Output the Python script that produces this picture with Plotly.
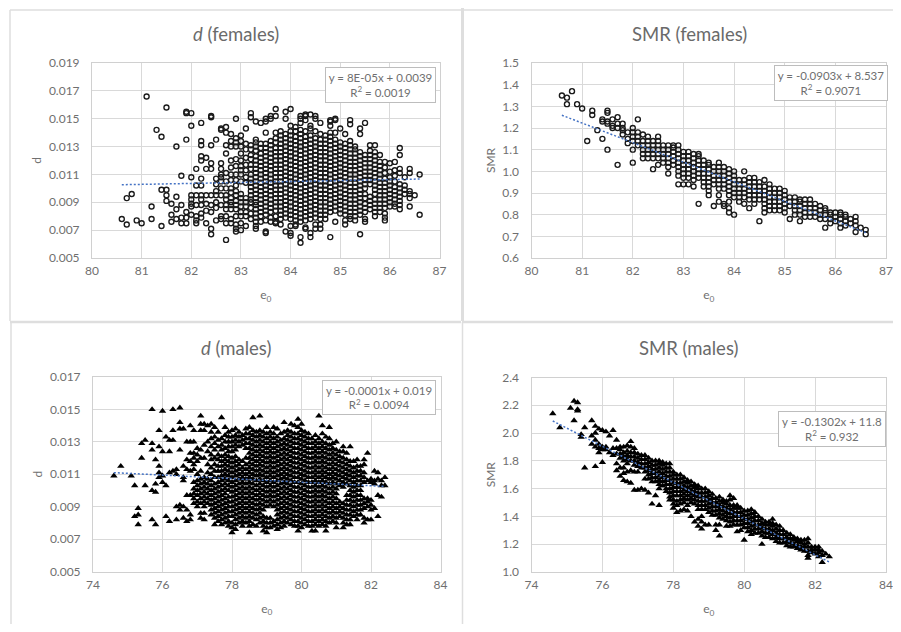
import plotly.graph_objects as go

W, H = 885, 616   # drawn size; the page's own 8px margin makes up the 901x632 window
OFF = 8

# d (females): e0 -> d x 10000
fem_d = {
80.6:[78], 80.7:[74,93], 80.8:[96], 80.9:[77], 81.0:[75], 81.1:[166], 81.2:[78,87], 81.3:[142],
81.4:[73,99,137], 81.5:[91,95,99,158], 81.6:[76,81,89], 81.7:[78,85,94,130], 81.8:[75,79,88,109],
81.9:[75,79,83,135,154,155], 82.0:[81,87,89,92,95,108,145,154], 82.1:[75,77,80,88,95,102,114],
82.2:[79,82,88,92,95,102,107,120,123,131,134,147], 82.3:[75,84,89,95,114,122],
82.4:[67,71,83,88,95,114,118,131,151,152], 82.5:[77,86,90,95,98,103,107,135],
82.6:[78,80,88,95,100,105,108,110,114,118,142,143],
82.7:[63,75,80,85,88,92,95,100,105,111,125,131,140,144],
82.8:[75,78,85,88,90,93,97,100,106,110,115,120,130,134,139],
82.9:[69,71,74,80,85,88,91,95,98,102,106,110,116,121,130,133,136,150],
83.0:[70,75,80,83,87,90,93,96,105,110,113,116,120,125,130,134,138],
83.1:[73,80,83,87,90,93,104,108,113,117,122,128,132,143],
83.2:[78,82,86,90,92,95,98,101,104,107,110,114,117,121,124,128,131,151,154],
83.3:[71,73,76,79,82,85,88,90,93,96,99,102,105,108,111,114,117,120,123,127,130,133,135,148],
83.4:[76,80,83,86,89,92,95,98,101,104,107,110,113,116,119,122,125,129,132,147],
83.5:[68,69,77,81,84,87,90,93,96,99,102,105,108,111,114,117,120,123,126,129,132,140,148,150],
83.6:[76,79,83,86,89,92,95,98,101,104,107,110,113,116,119,122,125,128,131,134,150,152],
83.7:[75,76,80,84,87,90,93,96,99,102,105,108,111,114,117,120,123,126,129,133,136,140,152,157],
83.8:[74,78,81,84,87,90,93,96,99,102,105,108,111,114,117,120,123,126,129,132,135,138,141],
83.9:[69,79,82,85,88,91,94,97,100,103,106,109,112,115,118,121,124,127,130,133,136,139,150,155],
84.0:[66,68,73,78,81,84,87,90,93,96,99,102,105,108,111,114,117,120,123,126,129,132,135,138,141,145,157],
84.1:[73,74,77,80,83,86,89,92,95,98,101,104,107,110,113,116,119,122,125,128,131,134,137,141,144],
84.2:[61,65,76,79,82,85,88,91,94,97,100,103,106,109,112,115,118,121,124,127,130,133,136,139,142,147,150,152],
84.3:[71,72,77,80,83,86,89,92,95,98,101,104,107,110,113,116,119,122,125,128,131,134,137,141,149,152,153],
84.4:[65,68,78,81,84,87,90,93,96,99,102,105,108,111,114,117,120,123,126,129,132,135,138,143,145,153],
84.5:[71,74,79,82,85,88,91,94,97,100,103,106,109,112,115,118,121,124,127,130,133,136,141,150,152],
84.6:[71,74,78,81,84,87,90,93,96,99,102,105,108,111,114,117,120,123,126,129,132,135,139,147],
84.7:[78,81,84,87,90,93,96,99,102,105,108,111,114,117,120,123,126,129,132,135,138],
84.8:[65,83,86,89,92,95,98,101,104,107,110,113,116,119,122,125,128,131,134,137,140,145,148,149],
84.9:[76,84,87,90,93,96,99,102,105,108,111,114,117,120,123,126,129,132,135,140,149,150],
85.0:[82,85,88,91,94,97,100,103,106,109,112,115,118,121,124,127,130,133,143],
85.1:[74,77,81,84,87,90,93,96,99,102,105,108,111,114,117,120,123,126,129,132,139],
85.2:[78,80,83,86,89,92,95,98,101,104,107,110,113,116,119,122,125,128,131,134,146,149],
85.3:[77,80,83,86,89,92,95,98,101,104,107,110,113,116,119,122,125,128,130],
85.4:[67,81,84,87,90,93,96,99,102,105,108,111,114,117,120,123,126,139,143],
85.5:[76,78,83,86,89,93,96,100,103,106,109,112,115,118,121,124,147],
85.6:[85,88,91,94,103,106,109,112,115,118,121,124,127,131],
85.7:[80,83,86,89,92,96,99,102,105,108,111,114,117,120,123,126,131],
85.8:[83,86,89,92,95,98,101,104,107,110,113,116,119,124],
85.9:[77,79,82,86,89,92,95,98,101,104,107,111,115,119],
86.0:[87,90,93,96,99,102,105,108,112,118],
86.1:[87,89,92,95,98,101,105,109,113,119],
86.2:[85,88,91,94,97,100,103,111,114,124,129],
86.3:[96,99,102,108], 86.4:[87,93,96,98,111,114], 86.5:[95], 86.6:[81,110],
}

# SMR (females): e0 -> SMR x 100
fem_smr = {
80.6:[135], 80.7:[131,134], 80.8:[137], 80.9:[131], 81.0:[129], 81.1:[114], 81.2:[126,128], 81.3:[119],
81.4:[115,123,124], 81.5:[110,122,123,127,128], 81.6:[120,121,124], 81.7:[103,120,122,125],
81.8:[117,119,120,122], 81.9:[113,115,118], 82.0:[104,110,114,116,118,120], 82.1:[112,114,116,118,124],
82.2:[106,108,110,112,114,117], 82.3:[106,108,110,112,114,116], 82.4:[101,106,108,110,112,114],
82.5:[103,106,108,110,112,114,116], 82.6:[104,106,108,110,112], 82.7:[99,102,104,106,108,110,112],
82.8:[103,105,107,109,111,112], 82.9:[94,98,100,102,104,106,108,110,112], 83.0:[94,97,99,101,103,105,107,109],
83.1:[94,97,99,101,103,105,107,109], 83.2:[93,96,98,100,102,104,106,108], 83.3:[85,97,99,101,103,105,107,108],
83.4:[93,95,97,99,101,103,105], 83.5:[89,91,93,95,97,99,101,103,104], 83.6:[84,94,96,98,100,102],
83.7:[86,89,92,94,96,98,100,102,104], 83.8:[84,85,92,94,96,98,100,102], 83.9:[81,83,86,89,91,93,95,97,99,101],
84.0:[80,88,90,92,94,96,98,100], 84.1:[86,88,90,92,94,96], 84.2:[85,88,90,92,94,96,100], 84.3:[83,87,89,91,93,95,97],
84.4:[85,87,89,91,93,95,97], 84.5:[77,87,89,91,93,95], 84.6:[81,83,85,87,89,91,93,96], 84.7:[82,84,86,88,90,92,94],
84.8:[82,84,86,88,90,92], 84.9:[82,84,86,88,90,92], 85.0:[81,83,85,87,89,91], 85.1:[78,84,86,88],
85.2:[80,82,84,86,88], 85.3:[77,80,82,84,86,87], 85.4:[79,81,83,85,87], 85.5:[79,81,83,85,87], 85.6:[79,81,83,85],
85.7:[78,80,82,84], 85.8:[74,78,80,82,83], 85.9:[76,78,80,81], 86.0:[77,79,81], 86.1:[74,76,78,80,81],
86.2:[75,77,79,80], 86.3:[76,78], 86.4:[72,75,77,79], 86.5:[74], 86.6:[71,73],
}

# d (males): e0 -> d x 10000
mal_d = {
74.6:[109], 74.8:[115], 75.1:[109], 75.2:[84,103], 75.3:[79,85,89], 75.4:[120,129], 75.5:[103,131],
75.7:[82,100,125,129,150], 75.8:[79,99,104,119], 75.9:[108,111,115,127,137], 76.0:[105,109,124,149],
76.1:[84,103,133], 76.2:[81,111,124,131], 76.3:[112,131,137,150], 76.4:[82,90,110,113],
76.5:[88,91,125,138,142,151], 76.6:[83,90,106,108,115,138], 76.7:[81,88,97,113,119,130],
76.8:[82,85,97,112,118,123,130,140], 76.9:[92,95,98,101,105,113,116,120,123,130,137],
77.0:[90,93,97,100,103,106,110,118,122,126],
77.1:[83,86,92,95,98,101,104,107,112,120,125,137,141,146],
77.2:[82,86,90,93,96,99,102,105,108,120,128,137,141],
77.3:[92,95,98,101,104,107,111,116,124,130,140],
77.4:[85,88,91,94,97,100,103,106,110,114,119,122,127,132,136,141],
77.5:[79,83,86,89,92,95,98,101,104,108,112,116,120,125,129,133,139],
77.6:[81,84,87,90,93,96,99,102,105,108,112,115,119,122,127,131,136],
77.7:[79,82,85,88,91,94,97,100,103,106,109,112,115,118,121,125,128,132,145],
77.8:[80,83,86,89,92,95,98,101,104,107,110,113,116,119,122,126,130,134,139],
77.9:[78,81,84,87,90,93,96,100,103,106,109,112,115,118,121,124,127,130,133,136],
78.0:[74,77,80,84,87,90,93,96,99,102,105,108,111,114,117,120,124,127,130,133,137],
78.1:[76,79,82,85,88,91,94,97,100,103,106,109,112,115,118,121,125,128,131,134,138],
78.2:[80,83,86,89,92,95,98,101,104,107,110,113,116,119,127,130,133,136],
78.3:[78,81,84,87,90,93,96,99,102,105,108,111,114,118,128,131,134],
78.4:[80,83,86,89,92,95,98,101,104,107,110,113,116,120,126,129,132,135,138],
78.5:[74,78,81,84,87,90,93,96,99,102,105,108,111,114,117,120,123,126,129,132,135,139],
78.6:[79,83,86,89,92,95,98,101,104,107,110,113,116,119,122,125,128,131,134,137,145],
78.7:[78,82,85,88,91,94,97,100,103,106,109,112,115,118,121,124,127,130,133,136],
78.8:[80,83,86,89,92,95,98,101,104,107,110,113,116,119,122,125,128,131,134,137,146],
78.9:[75,78,81,84,88,91,94,97,100,103,106,109,112,115,118,121,124,127,130,133,136],
79.0:[74,77,80,83,90,93,96,99,102,105,108,111,114,117,120,123,126,129,132,135,139],
79.1:[77,80,83,91,94,97,100,103,106,109,112,115,118,121,124,127,130,133,136],
79.2:[78,81,90,93,96,99,102,105,108,111,114,117,120,123,126,129,132,135,139],
79.3:[76,79,82,85,88,91,94,97,100,103,106,109,112,115,118,121,124,127,130,133,138],
79.4:[77,80,83,86,89,92,95,98,101,104,107,110,113,116,119,122,125,128,131,135],
79.5:[78,81,84,87,90,93,96,99,102,105,108,111,114,117,120,123,126,129,132,136,142],
79.6:[80,83,86,89,92,95,98,101,104,107,110,113,116,119,122,125,128,131,134,137],
79.7:[79,82,85,88,91,94,97,100,103,106,109,112,115,118,121,124,127,130,133,136,141],
79.8:[78,81,84,87,90,93,96,99,102,105,108,111,114,117,120,123,126,129,132,135,140],
79.9:[75,78,81,84,87,90,93,96,99,102,105,108,111,114,117,120,123,126,129,132,135,139,144],
80.0:[77,80,83,86,89,92,95,98,101,104,107,110,113,116,119,122,125,128,131,134,137,141],
80.1:[79,82,85,88,91,94,97,100,103,106,109,112,115,118,121,124,127,130,133,136],
80.2:[78,81,84,87,90,93,96,99,102,105,108,111,114,117,120,123,126,129,132,135],
80.3:[75,78,81,84,87,90,93,96,99,102,105,108,111,114,117,120,123,126,129,132],
80.4:[75,79,82,85,88,91,94,97,100,103,106,109,112,115,118,121,124,127,130,134],
80.5:[78,81,84,87,90,93,96,99,102,105,108,111,114,117,120,123,126,129,132,146],
80.6:[79,82,85,88,91,94,97,100,103,106,109,112,115,118,121,124,127,130,135,140],
80.7:[75,78,81,84,87,90,93,96,99,102,105,108,111,114,117,120,123,126,129,133],
80.8:[80,83,86,89,92,95,98,101,104,107,110,113,116,119,122,125,128,132,139],
80.9:[81,84,87,90,93,96,99,102,105,108,111,114,117,120,123,126,129],
81.0:[77,80,83,86,89,92,95,98,101,104,107,110,113,116,119,122,125,130],
81.1:[84,87,90,93,103,106,109,112,115,118,121,124],
81.2:[77,80,83,86,89,92,102,105,108,111,114,117,120,124,127],
81.3:[79,82,85,88,91,94,97,104,107,110,113,116,119,123],
81.4:[79,82,85,88,91,94,97,100,103,106,109,112,115,118,127],
81.5:[84,87,90,93,96,99,102,105,108,111,114,118],
81.6:[82,85,88,91,94,97,100,103,106,109,112,115,119],
81.7:[85,88,91,94,97,100,103,106,109,112,115],
81.8:[80,83,89,92,95,105,108,111,116,119],
81.9:[82,90,93,95,106,123],
82.0:[82,88,91,94,105,107],
82.1:[89,104,106,112],
82.2:[84,97,107,111], 82.3:[96,103,106], 82.4:[103,108],
}

# SMR (males): e0 -> SMR x 100
mal_smr = {
74.6:[214], 74.8:[204], 75.1:[218], 75.2:[209,223], 75.3:[216,217,222], 75.4:[197,199], 75.5:[175,204],
75.7:[192,198,209], 75.8:[176,190,195,200,205], 75.9:[186,189,192,203], 76.0:[179,188,190,202], 76.1:[188,190,201],
76.2:[186,198], 76.3:[184,189,202], 76.4:[173,178,185,189,195], 76.5:[169,175,182,185,188,190],
76.6:[166,171,175,180,183,186,190], 76.7:[165,172,178,181,184,187,191], 76.8:[164,173,180,183,186,190,194],
76.9:[159,172,177,180,183,186,189], 77.0:[159,172,176,179,182,185], 77.1:[160,175,178,181,184],
77.2:[159,167,172,175,178,181,184], 77.3:[157,167,170,173,176,179,182], 77.4:[149,165,168,171,174,177,180],
77.5:[155,165,168,171,174,177,180], 77.6:[148,160,163,166,169,172,175,178,180], 77.7:[162,165,168,171,174,177,179],
77.8:[158,160,163,166,169,172,175,178], 77.9:[152,154,157,160,163,166,169,172,175,178],
78.0:[146,149,152,155,158,161,164,167,170,172], 78.1:[143,148,151,155,158,161,164,167,170],
78.2:[144,149,152,155,158,161,164,167,170], 78.3:[145,150,153,156,159,162,165,168],
78.4:[144,148,152,155,158,161,164,166], 78.5:[140,150,153,156,159,162,165], 78.6:[136,149,152,155,158,161,163],
78.7:[133,138,145,148,151,154,157,160,162], 78.8:[131,136,140,145,148,151,154,157,160], 78.9:[134,145,148,151,154,157,160],
79.0:[134,143,146,149,152,155,158], 79.1:[141,144,147,150,153,156], 79.2:[130,134,141,144,147,150,153],
79.3:[126,134,139,142,145,148,151,154], 79.4:[138,141,144,147,150,152], 79.5:[133,137,140,143,146,149,151],
79.6:[133,136,139,142,145,148,152,155], 79.7:[134,137,140,143,146,148,153], 79.8:[129,134,137,140,143,146,148],
79.9:[130,134,137,140,143,146], 80.0:[123,132,135,138,141,144], 80.1:[129,132,135,138,141,144],
80.2:[127,130,133,136,139,142,145], 80.3:[128,131,134,137,140,143], 80.4:[128,131,134,137,140],
80.5:[120,126,129,132,135,138], 80.6:[125,128,131,134,136], 80.7:[125,128,131,134,136], 80.8:[124,127,130,133,135,138],
80.9:[122,125,128,131,134], 81.0:[121,124,127,130,133], 81.1:[121,124,127,130], 81.2:[119,122,125,128],
81.3:[118,121,124,127], 81.4:[118,120,123,125], 81.5:[117,119,122,124], 81.6:[116,118,121,123], 81.7:[115,118,120,123],
81.8:[110,112,115,118,121,124], 81.9:[114,116,118], 82.0:[113,116,118], 82.1:[111,114,116,118], 82.2:[107,112,115],
82.3:[113], 82.4:[111],
}

titles = ["<i>d</i> (females)", "SMR (females)", "<i>d</i> (males)", "SMR (males)"]
y_titles = ["d", "SMR", "d", "SMR"]
x_title = "e<sub>0</sub>"
equations = [
    "y = 8E-05x + 0.0039<br>R<sup>2</sup> = 0.0019",
    "y = -0.0903x + 8.537<br>R<sup>2</sup> = 0.9071",
    "y = -0.0001x + 0.019<br>R<sup>2</sup> = 0.0094",
    "y = -0.1302x + 11.8<br>R<sup>2</sup> = 0.932",
]
trend_x = [[80.6, 86.6], [80.6, 86.6], [74.6, 82.4], [74.6, 82.4]]
trend_y = [[0.01026, 0.01067], [1.259, 0.717], [0.0111, 0.01025], [2.087, 1.072]]
x_ranges = [[80, 87], [80, 87], [74, 84], [74, 84]]
x_dticks = [1, 1, 2, 2]
y_ranges = [[0.005, 0.019], [0.6, 1.5], [0.005, 0.017], [1.0, 2.4]]
y_dticks = [0.002, 0.1, 0.002, 0.2]
y_formats = [".3f", ".1f", ".3f", ".1f"]

GRAY = "#6f6f6f"
FONT = "Lato"
# window pixels: left, right, top, bottom (right-hand panels end at 886 so the last tick label stays visible)
plots = [(92, 439.5, 63, 258), (531.5, 886, 63, 258), (93, 440.5, 377, 571.5), (531.5, 886, 377.5, 572)]
boxes = [(325, 436, 67, 103), (774, 888, 65, 101), (322, 436, 380, 415), (778, 886, 411, 447)]
title_pos = [(236, 34), (689, 34), (236, 348), (688, 348)]
series = [fem_d, fem_smr, mal_d, mal_smr]
scales = [1e-4, 1e-2, 1e-4, 1e-2]
symbols = ["circle-open", "circle-open", "triangle-up", "triangle-up"]


def px(x):
    return (x - OFF) / W


def py(y):
    return 1 - (y - OFF) / H


fig = go.Figure()
annotations, shapes = [], []
for i in range(4):
    s = "" if i == 0 else str(i + 1)
    L, R, T, B = plots[i]
    xs, ys = [], []
    for e0, vals in series[i].items():
        for v in vals:
            xs.append(e0)
            ys.append(round(v * scales[i], 5))
    open_m = symbols[i] == "circle-open"
    fig.add_trace(go.Scatter(
        x=xs, y=ys, mode="markers", xaxis="x" + s, yaxis="y" + s, showlegend=False,
        marker=dict(symbol=symbols[i], size=5, color="#1a1a1a", line=dict(width=1.4, color="#1a1a1a")) if open_m else
               dict(symbol=symbols[i], size=6.5, color="#000000", line=dict(width=0)),
    ))
    fig.add_trace(go.Scatter(
        x=trend_x[i], y=trend_y[i], mode="lines", xaxis="x" + s, yaxis="y" + s, showlegend=False,
        line=dict(color="#4472c4", width=1.5, dash="2px,2px"),
    ))
    axis_common = dict(showgrid=True, gridcolor="#d9d9d9", gridwidth=1, zeroline=False, automargin=False,
                       showline=True, linecolor="#d0d0d0", linewidth=1, mirror=True,
                       ticks="outside", tickcolor="rgba(0,0,0,0)",
                       tickfont=dict(family=FONT, size=12, color=GRAY))
    fig.layout["xaxis" + s] = dict(
        axis_common, domain=[px(L), px(R)], range=x_ranges[i], dtick=x_dticks[i], tick0=x_ranges[i][0],
        ticklen=2, anchor="y" + s,
        title=dict(text=x_title, standoff=13, font=dict(family=FONT, size=12, color=GRAY)),
    )
    fig.layout["yaxis" + s] = dict(
        axis_common, domain=[py(B), py(T)], range=y_ranges[i], dtick=y_dticks[i], tick0=y_ranges[i][0],
        ticklen=9, tickformat=y_formats[i], anchor="x" + s,
        title=dict(text=y_titles[i], standoff=4, font=dict(family=FONT, size=12, color=GRAY)),
    )
    annotations.append(dict(
        text=titles[i], xref="paper", yref="paper", x=px(title_pos[i][0]), y=py(title_pos[i][1]),
        xanchor="center", yanchor="middle", showarrow=False, font=dict(family=FONT, size=18.5, color="#6a6a6a"),
    ))
    bl, br, bt, bb = boxes[i]
    annotations.append(dict(
        text=equations[i], xref="paper", yref="paper", x=px(bl), y=py(bt), xanchor="left", yanchor="top",
        width=br - bl - 2, height=bb - bt - 2, align="center", valign="middle", showarrow=False,
        bgcolor="#ffffff", bordercolor="#bdbdbd", borderwidth=1, borderpad=0,
        font=dict(family=FONT, size=11.5, color=GRAY),
    ))

frame_lines = [(10, 10, 461, 10, 1.5), (10, 10, 10, 321, 1.5), (10, 322, 461, 322, 2.5), (462.5, 8, 462.5, 321, 3),
               (462, 10, 893, 10, 1.5), (462, 322, 893, 322, 2.5), (462.5, 322, 462.5, 624, 1.5), (11, 322, 11, 624, 1.5)]
for x0, y0, x1, y1, w in frame_lines:
    shapes.append(dict(type="line", xref="paper", yref="paper", x0=px(x0), x1=px(x1), y0=py(y0), y1=py(y1),
                       line=dict(color="#dedede", width=w)))

fig.update_layout(
    width=W, height=H, autosize=False, margin=dict(l=0, r=0, t=0, b=0),
    paper_bgcolor="#ffffff", plot_bgcolor="#ffffff", annotations=annotations, shapes=shapes,
    font=dict(family=FONT, color=GRAY), showlegend=False,
)
fig.write_html("out.html", config={"displayModeBar": False})
